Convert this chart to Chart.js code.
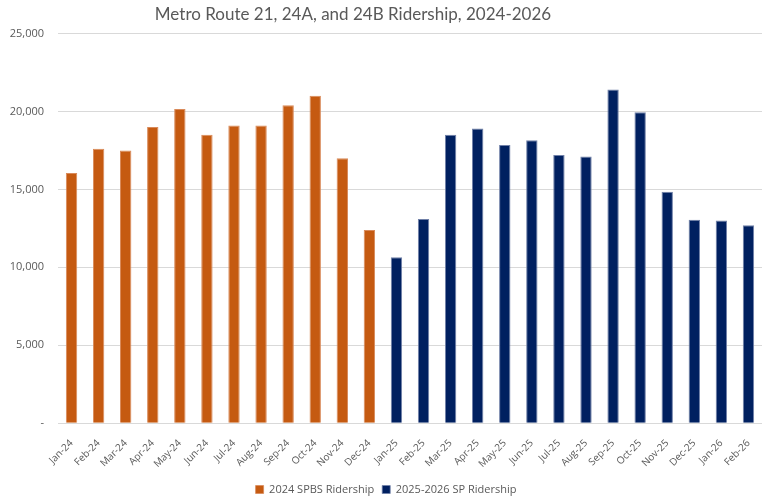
<!DOCTYPE html>
<html>
<head>
<meta charset="utf-8">
<script src="https://cdn.jsdelivr.net/npm/chart.js@4.4.1/dist/chart.umd.min.js"></script>
<style>
  html, body { margin: 0; padding: 0; background: #fff; }
  #wrap { width: 762px; height: 501px; }
</style>
</head>
<body>
<div id="wrap"><canvas id="ridershipChart" width="762" height="501"></canvas></div>
<script>
const months = ["Jan-24", "Feb-24", "Mar-24", "Apr-24", "May-24", "Jun-24", "Jul-24", "Aug-24",
    "Sep-24", "Oct-24", "Nov-24", "Dec-24", "Jan-25", "Feb-25", "Mar-25", "Apr-25", "May-25",
    "Jun-25", "Jul-25", "Aug-25", "Sep-25", "Oct-25", "Nov-25", "Dec-25", "Jan-26", "Feb-26"];

const spbs2024 = [16050, 17600, 17500, 19000, 20150, 18500, 19100, 19100, 20400, 21000, 17000, 12400,
    null, null, null, null, null, null, null, null, null, null, null, null, null, null];

const sp20252026 = [null, null, null, null, null, null, null, null, null, null, null, null,
    10650, 13100, 18500, 18900, 17850, 18150, 17200, 17100, 21400, 19950, 14850, 13050, 13000, 12700];

const yTicks = [0, 5000, 10000, 15000, 20000, 25000];

const textColor = "#595959";
const gridColor = "#d9d9d9";

// the original title sits a bit left of the canvas centre
const titleShift = {
    id: 'titleShift',
    afterLayout(chart) {
        const t = chart.titleBlock;
        if (t) {
            t.left -= 33;
            t.right -= 33;
        }
    }
};

function drawRidershipChart() {
    const ctx = document.getElementById("ridershipChart").getContext("2d");

    new Chart(ctx, {
        type: 'bar',
        data: {
            labels: months,
            datasets: [{
                label: '2024 SPBS Ridership',
                data: spbs2024,
                backgroundColor: '#c55a11',
                borderColor: '#d98a5a',
                borderWidth: { top: 1, left: 1, right: 1, bottom: 0 },
                barPercentage: 0.42,
                categoryPercentage: 1
            }, {
                label: '2025-2026 SP Ridership',
                data: sp20252026,
                backgroundColor: '#002060',
                borderColor: '#7080a8',
                borderWidth: { top: 1, left: 1, right: 1, bottom: 0 },
                barPercentage: 0.42,
                categoryPercentage: 1
            }]
        },
        options: {
            responsive: false,
            animation: false,
            layout: {
                padding: { left: 10, right: 0, top: 0, bottom: -4 }
            },
            scales: {
                x: {
                    stacked: true,
                    grid: { display: false },
                    border: { color: gridColor },
                    ticks: {
                        color: textColor,
                        font: { family: 'Open Sans', size: 10 },
                        minRotation: 45,
                        maxRotation: 45,
                        autoSkip: false,
                        padding: 6
                    },
                    afterFit: function(scale) {
                        // rotated labels should not push the plot area in
                        scale.paddingLeft = 0;
                        scale.paddingRight = 0;
                    }
                },
                y: {
                    stacked: true,
                    min: 0,
                    max: 25000,
                    afterBuildTicks: function(axis) {
                        axis.ticks = yTicks.map(v => ({ value: v }));
                    },
                    afterFit: function(scale) {
                        // chart.js counts tick padding twice, keep the axis narrow
                        scale.width = 48;
                    },
                    grid: {
                        color: gridColor,
                        drawTicks: false
                    },
                    border: { display: false },
                    ticks: {
                        color: textColor,
                        font: { family: 'Open Sans', size: 11 },
                        padding: 14,
                        callback: function(value) {
                            return value === 0 ? '-' : value.toLocaleString('en-US');
                        }
                    }
                }
            },
            plugins: {
                title: {
                    display: true,
                    text: 'Metro Route 21, 24A, and 24B Ridership, 2024-2026',
                    color: textColor,
                    font: { family: 'Lato', size: 17, weight: 'normal' },
                    padding: { top: 4, bottom: 9 }
                },
                legend: {
                    position: 'bottom',
                    labels: {
                        color: textColor,
                        font: { family: 'Open Sans', size: 11 },
                        boxWidth: 8,
                        boxHeight: 8,
                        padding: 8
                    }
                },
                tooltip: { enabled: false }
            }
        },
        plugins: [titleShift]
    });
}

drawRidershipChart();
</script>
</body>
</html>
